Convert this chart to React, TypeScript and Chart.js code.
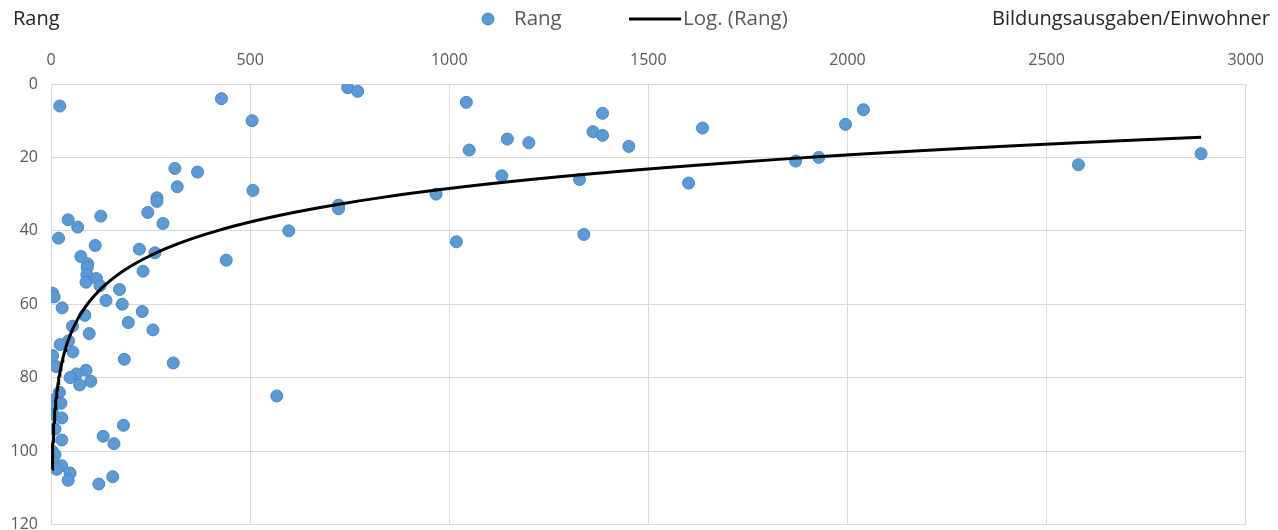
import React, { useEffect, useRef } from "react";
import { Chart, registerables } from "chart.js";

Chart.register(...registerables);

// Bildungsausgaben je Einwohner (x) and Rang (y)
const spending = [
  745, 770, 428, 1043, 22, 2040, 1385, 505, 1995, 1636,
  1361, 1385, 1146, 1200, 1451, 1050, 2888, 1928, 1870, 2580,
  311, 368, 1132, 1327, 1601, 317, 507, 967, 266, 266,
  722, 722, 243, 125, 43, 281, 67, 597, 1338, 19,
  1018, 111, 222, 261, 75, 440, 92, 91, 231, 90,
  114, 88, 123, 172, 4, 8, 138, 179, 28, 229,
  85, 194, 54, 256, 96, 44, 23, 55, 4, 184,
  307, 13, 88, 64, 48, 100, 72, 21, 567, 8,
  25, 4, 6, 27, 182, 10, 131, 27, 158, 3,
  10, 6, 27, 14, 48, 155, 43, 120,
];
const rank = [
  1, 2, 4, 5, 6, 7, 8, 10, 11, 12,
  13, 14, 15, 16, 17, 18, 19, 20, 21, 22,
  23, 24, 25, 26, 27, 28, 29, 30, 31, 32,
  33, 34, 35, 36, 37, 38, 39, 40, 41, 42,
  43, 44, 45, 46, 47, 48, 49, 50, 51, 52,
  53, 54, 55, 56, 57, 58, 59, 60, 61, 62,
  63, 65, 66, 67, 68, 70, 71, 73, 74, 75,
  76, 77, 78, 79, 80, 81, 82, 84, 85, 86,
  87, 88, 90, 91, 93, 94, 96, 97, 98, 100,
  101, 103, 104, 105, 106, 107, 108, 109,
];

const xTicks = [0, 500, 1000, 1500, 2000, 2500, 3000];
const yTicks = [0, 20, 40, 60, 80, 100, 120];

const SERIES_LABEL = "Rang";
const TREND_LABEL = "Log. (Rang)";
const Y_TITLE = "Rang";
const X_TITLE = "Bildungsausgaben/Einwohner";

// Logarithmic trendline y = A + B·ln(x), coefficients
const TREND_A = 119.45;
const TREND_B = -13.17;
const TREND_SAMPLES = 120;

const FONT = '"Open Sans", "Liberation Sans", sans-serif';

const headerPlugin = {
  id: "header",
  afterDraw(chart: any) {
    const ctx = chart.ctx as CanvasRenderingContext2D;
    const cy = 19;
    ctx.save();
    ctx.textBaseline = "middle";
    ctx.font = `20px ${FONT}`;
    ctx.fillStyle = "#262626";
    ctx.textAlign = "left";
    ctx.fillText(Y_TITLE, 13, cy);
    ctx.textAlign = "right";
    ctx.fillText(X_TITLE, 1270, cy);

    // legend
    ctx.fillStyle = "#5b9bd5";
    ctx.strokeStyle = "#4a86c4";
    ctx.lineWidth = 1;
    ctx.beginPath();
    ctx.arc(488, cy, 6, 0, Math.PI * 2);
    ctx.fill();
    ctx.stroke();
    ctx.fillStyle = "#595959";
    ctx.textAlign = "left";
    ctx.font = `20.5px ${FONT}`;
    ctx.fillText(SERIES_LABEL, 514, cy);

    ctx.strokeStyle = "#000000";
    ctx.lineWidth = 3;
    ctx.beginPath();
    ctx.moveTo(629, cy);
    ctx.lineTo(681, cy);
    ctx.stroke();
    ctx.fillText(TREND_LABEL, 683, cy);
    ctx.restore();
  },
};

export default function App() {
  const ref = useRef<HTMLCanvasElement | null>(null);

  useEffect(() => {
    if (!ref.current) return;
    const points = spending.map((x, i) => ({ x, y: rank[i] }));
    const xMin = Math.min(...spending);
    const xMax = Math.max(...spending);
    const trend: { x: number; y: number }[] = [];
    for (let i = 0; i <= TREND_SAMPLES; i++) {
      const x = xMin * Math.pow(xMax / xMin, i / TREND_SAMPLES);
      trend.push({ x, y: TREND_A + TREND_B * Math.log(x) });
    }

    const chart = new Chart(ref.current, {
      type: "scatter",
      data: {
        datasets: [
          {
            label: SERIES_LABEL,
            data: points,
            backgroundColor: "#5b9bd5",
            borderColor: "#4a86c4",
            borderWidth: 1,
            pointRadius: 6,
            order: 2,
          },
          {
            type: "line",
            label: TREND_LABEL,
            data: trend,
            borderColor: "#000000",
            borderWidth: 3,
            pointRadius: 0,
            fill: false,
            tension: 0,
            order: 1,
          } as any,
        ],
      },
      options: {
        animation: false,
        responsive: false,
        maintainAspectRatio: false,
        layout: { padding: { top: 0, left: 0, right: 31, bottom: 6 } },
        plugins: {
          legend: { display: false },
          tooltip: { enabled: false },
          title: { display: false },
        },
        scales: {
          x: {
            type: "linear",
            position: "top",
            min: 0,
            max: 3000,
            afterBuildTicks: (s: any) => {
              s.ticks = xTicks.map((v) => ({ value: v }));
            },
            afterFit: (s: any) => {
              s.height = 84;
            },
            ticks: {
              color: "#595959",
              font: { family: FONT, size: 16 },
              padding: 14,
              callback: (v: any) => String(v),
            },
            grid: { color: "#d9d9d9", drawTicks: false, lineWidth: 1 },
            border: { color: "#d9d9d9" },
          },
          y: {
            type: "linear",
            reverse: true,
            min: 0,
            max: 120,
            afterBuildTicks: (s: any) => {
              s.ticks = yTicks.map((v) => ({ value: v }));
            },
            afterFit: (s: any) => {
              s.width = 51;
            },
            ticks: {
              color: "#595959",
              font: { family: FONT, size: 16 },
              padding: 13,
              callback: (v: any) => String(v),
            },
            grid: { color: "#d9d9d9", drawTicks: false, lineWidth: 1 },
            border: { color: "#d9d9d9" },
          },
        },
      },
      plugins: [headerPlugin],
    });
    return () => chart.destroy();
  }, []);

  return (
    <div
      style={{
        position: "fixed",
        left: 0,
        top: 0,
        width: 1278,
        height: 530,
        overflow: "hidden",
        background: "#ffffff",
      }}
    >
      <canvas ref={ref} width={1278} height={547} style={{ display: "block" }} />
    </div>
  );
}
